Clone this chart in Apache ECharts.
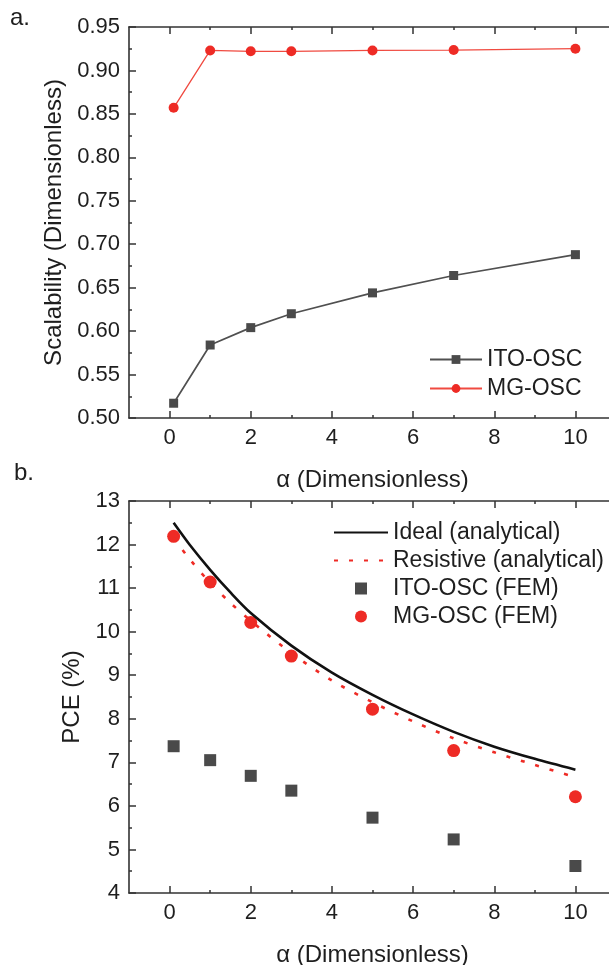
<!DOCTYPE html>
<html>
<head>
<meta charset="utf-8">
<script src="https://cdn.jsdelivr.net/npm/echarts@6/dist/echarts.min.js"></script>
<style>
  html, body { margin: 0; padding: 0; background: #fff; overflow: hidden; }
  #chart { width: 609px; height: 965px; }
</style>
</head>
<body>
<div id="chart"></div>
<script>
// FEM sample points (alpha values)
const alphaFem = [0.1, 1, 2, 3, 5, 7, 10];
// panel a: scalability
const scalabilityIto = [0.517, 0.584, 0.604, 0.620, 0.644, 0.664, 0.688];
const scalabilityMg = [0.857, 0.923, 0.922, 0.922, 0.923, 0.9235, 0.925];
// panel b: PCE from FEM
const pceItoFem = [7.37, 7.05, 6.69, 6.35, 5.73, 5.23, 4.62];
const pceMgFem = [12.19, 11.14, 10.21, 9.44, 8.22, 7.27, 6.21];
// panel b: analytical curves
const alphaCurve = [0.1, 0.5, 1, 1.5, 2, 3, 4, 5, 6, 7, 8, 9, 10];
const pceIdeal = [12.5, 11.99, 11.42, 10.9, 10.43, 9.68, 9.06, 8.55, 8.1, 7.7, 7.36, 7.08, 6.83];
const pceResistive = [12.15, 11.66, 11.12, 10.66, 10.25, 9.51, 8.88, 8.38, 7.94, 7.55, 7.23, 6.94, 6.66];
// alpha axis ticks
const xMajorTicks = [0, 2, 4, 6, 8, 10];
const xMinorTicks = [1, 3, 5, 7, 9];

const FONT = "'Liberation Sans', Arial, Helvetica, sans-serif";
const INK = '#1e1e1e';
const AXIS = '#333333';
const RED = '#ee2b25';
const GREY = '#4a4a4a';

const pairs = (xs, ys) => xs.map((x, i) => [x, ys[i]]);

const gridA = { left: 129, top: 27, width: 487, height: 391, outerBoundsMode: 'none', containLabel: false };
const gridB = { left: 129, top: 501, width: 487, height: 392, outerBoundsMode: 'none', containLabel: false };

function alphaAxis(gridIndex, position, withLabels) {
  return {
    type: 'value', gridIndex, position,
    min: -1, max: 11, interval: 1,
    name: withLabels ? 'α (Dimensionless)' : '',
    nameLocation: 'middle', nameGap: 50,
    nameTextStyle: { fontFamily: FONT, fontSize: 24, color: INK },
    axisLine: { show: true, onZero: false, lineStyle: { color: AXIS, width: 1.6 } },
    axisTick: { show: true, inside: true, length: 7, customValues: xMajorTicks,
                lineStyle: { color: AXIS, width: 1.5 } },
    axisLabel: { show: withLabels, customValues: xMajorTicks, margin: 9,
                 fontFamily: FONT, fontSize: 22, color: INK,
                 formatter: v => (v % 2 === 0 && v >= 0 && v <= 10) ? String(v) : '' },
    splitLine: { show: false }
  };
}

function minorAlphaAxis(gridIndex, position) {
  return {
    type: 'value', gridIndex, position,
    min: -1, max: 11, interval: 1,
    axisLine: { show: false, onZero: false },
    axisTick: { show: true, inside: true, length: 3, customValues: xMinorTicks,
                lineStyle: { color: AXIS, width: 1.5 } },
    axisLabel: { show: false },
    splitLine: { show: false }
  };
}

function valueAxis(gridIndex, position, min, max, interval, name, nameGap, fmt) {
  const withLabels = position === 'left';
  return {
    type: 'value', gridIndex, position,
    min, max, interval,
    name: withLabels ? name : '',
    nameLocation: 'middle', nameGap,
    nameTextStyle: { fontFamily: FONT, fontSize: 24, color: INK },
    axisLine: { show: true, onZero: false, lineStyle: { color: AXIS, width: 1.6 } },
    axisTick: { show: true, inside: true, length: 7, lineStyle: { color: AXIS, width: 1.5 } },
    minorTick: { show: true, splitNumber: 2, length: 3, lineStyle: { color: AXIS, width: 1.5 } },
    axisLabel: { show: withLabels, margin: 9, fontFamily: FONT, fontSize: 22, color: INK,
                 formatter: fmt },
    splitLine: { show: false },
    minorSplitLine: { show: false }
  };
}

// legend entries for plain curves: line sample only, no marker
const curveOnly = { color: 'rgba(0,0,0,0)', borderWidth: 0, opacity: 0 };

const option = {
  animation: false,
  backgroundColor: '#ffffff',
  textStyle: { fontFamily: FONT },
  grid: [
    Object.assign({}, gridA),
    Object.assign({}, gridB),
    Object.assign({}, gridA),
    Object.assign({}, gridB)
  ],
  xAxis: [
    alphaAxis(0, 'bottom', true),
    alphaAxis(0, 'top', false),
    alphaAxis(1, 'bottom', true),
    alphaAxis(1, 'top', false),
    minorAlphaAxis(2, 'bottom'),
    minorAlphaAxis(2, 'top'),
    minorAlphaAxis(3, 'bottom'),
    minorAlphaAxis(3, 'top')
  ],
  yAxis: [
    valueAxis(0, 'left', 0.5, 0.95, 0.05, 'Scalability (Dimensionless)', 58, v => v.toFixed(2)),
    valueAxis(0, 'right', 0.5, 0.95, 0.05, '', 0, v => v.toFixed(2)),
    valueAxis(1, 'left', 4, 13, 1, 'PCE (%)', 36, v => String(v)),
    valueAxis(1, 'right', 4, 13, 1, '', 0, v => String(v)),
    { type: 'value', gridIndex: 2, show: false, min: 0, max: 1 },
    { type: 'value', gridIndex: 3, show: false, min: 0, max: 1 }
  ],
  legend: [
    {
      data: ['ITO-OSC', 'MG-OSC'],
      orient: 'vertical', left: 424, top: 343,
      itemWidth: 52, itemHeight: 11, itemGap: 6,
      textStyle: { fontFamily: FONT, fontSize: 23, color: INK },
      selectedMode: false
    },
    {
      data: [
        { name: 'Ideal (analytical)', itemStyle: curveOnly },
        { name: 'Resistive (analytical)', itemStyle: curveOnly },
        { name: 'ITO-OSC (FEM)', icon: 'path://M0 0H10V10H0Z' },
        { name: 'MG-OSC (FEM)', icon: 'circle' }
      ],
      orient: 'vertical', left: 328, top: 516,
      itemWidth: 54, itemHeight: 12, itemGap: 5,
      symbolKeepAspect: true,
      textStyle: { fontFamily: FONT, fontSize: 23, color: INK },
      selectedMode: false
    }
  ],
  series: [
    {
      name: 'ITO-OSC', type: 'line', xAxisIndex: 0, yAxisIndex: 0,
      data: pairs(alphaFem, scalabilityIto),
      symbol: 'rect', symbolSize: 9,
      itemStyle: { color: GREY },
      lineStyle: { color: '#505050', width: 1.7 }
    },
    {
      name: 'MG-OSC', type: 'line', xAxisIndex: 0, yAxisIndex: 0,
      data: pairs(alphaFem, scalabilityMg),
      symbol: 'circle', symbolSize: 10,
      itemStyle: { color: RED },
      lineStyle: { color: '#f04a40', width: 1.3 }
    },
    {
      name: 'Ideal (analytical)', type: 'line', xAxisIndex: 2, yAxisIndex: 2,
      data: pairs(alphaCurve, pceIdeal),
      symbol: 'none', smooth: 0.3,
      itemStyle: { color: '#111111' },
      lineStyle: { color: '#111111', width: 2.6 }
    },
    {
      name: 'Resistive (analytical)', type: 'line', xAxisIndex: 2, yAxisIndex: 2,
      data: pairs(alphaCurve, pceResistive),
      symbol: 'none', smooth: 0.3,
      itemStyle: { color: RED },
      lineStyle: { color: RED, width: 2.6, type: [4, 11] }
    },
    {
      name: 'ITO-OSC (FEM)', type: 'scatter', xAxisIndex: 2, yAxisIndex: 2,
      data: pairs(alphaFem, pceItoFem),
      symbol: 'rect', symbolSize: 12,
      itemStyle: { color: GREY, opacity: 1 }
    },
    {
      name: 'MG-OSC (FEM)', type: 'scatter', xAxisIndex: 2, yAxisIndex: 2,
      data: pairs(alphaFem, pceMgFem),
      symbol: 'circle', symbolSize: 13,
      itemStyle: { color: RED, opacity: 1 }
    }
  ],
  graphic: [
    { type: 'text', left: 10, top: 6,
      style: { text: 'a.', fontFamily: FONT, fontSize: 24, fill: INK } },
    { type: 'text', left: 14, top: 461,
      style: { text: 'b.', fontFamily: FONT, fontSize: 24, fill: INK } }
  ]
};

const chart = echarts.init(document.getElementById('chart'), null, { renderer: 'canvas' });
chart.setOption(option);
</script>
</body>
</html>
